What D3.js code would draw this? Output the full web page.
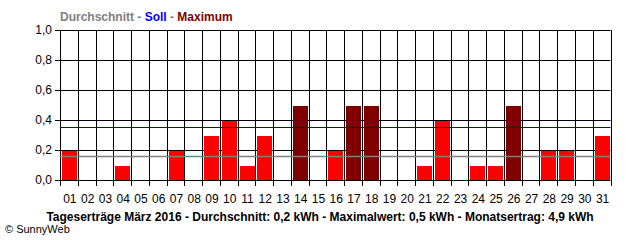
<!DOCTYPE html>
<html>
<head>
<meta charset="utf-8">
<script src="https://cdn.jsdelivr.net/npm/d3@7"></script>
<style>
  body { margin: 0; background: #fff; }
  svg { display: block; }
  text { font-family: "Liberation Sans", Arial, sans-serif; }
</style>
</head>
<body>
<div id="chart"></div>
<script>
// daily yields, March 2016 (kWh)
var days = ['01','02','03','04','05','06','07','08','09','10','11','12','13','14','15','16',
            '17','18','19','20','21','22','23','24','25','26','27','28','29','30','31'];
var yields = [0.195, 0, 0, 0.095, 0, 0, 0.195, 0, 0.295, 0.395, 0.095, 0.295, 0, 0.495, 0, 0.195,
              0.495, 0.495, 0, 0, 0.095, 0.395, 0, 0.095, 0.095, 0.495, 0, 0.195, 0.195, 0, 0.295];
var yTicks = [0, 0.2, 0.4, 0.6, 0.8, 1.0];
var avgValue = 0.158;
var sollValue = 0.353;
var footer = 'Tageserträge März 2016 - Durchschnitt: 0,2 kWh - Maximalwert: 0,5 kWh - Monatsertrag: 4,9 kWh';

var width = 640, height = 240;
var plotLeft = 60, plotRight = 610.5, plotTop = 30, plotBottom = 180;

var svg = d3.select('#chart').append('svg')
    .attr('width', width)
    .attr('height', height);

var x = d3.scaleBand().domain(days).range([plotLeft, plotRight]);
var y = d3.scaleLinear().domain([0, 1]).range([plotBottom, plotTop]);

var maxVal = d3.max(yields);

// horizontal grid + y labels
yTicks.forEach(function(t){
  svg.append('line')
    .attr('x1', plotLeft - 5).attr('x2', plotRight)
    .attr('y1', Math.round(y(t)) + 0.5).attr('y2', Math.round(y(t)) + 0.5)
    .attr('stroke', '#000');
  svg.append('text')
    .attr('x', 52).attr('y', Math.round(y(t)) + 4)
    .attr('text-anchor', 'end')
    .attr('font-size', 12)
    .text(d3.format('.1f')(t).replace('.', ','));
});

// vertical grid lines, running down as ticks
var bounds = days.map(function(d){ return x(d); }).concat([plotRight]);
bounds.forEach(function(b){
  svg.append('line')
    .attr('x1', Math.round(b) + 0.5).attr('x2', Math.round(b) + 0.5)
    .attr('y1', plotTop).attr('y2', plotBottom + 6)
    .attr('stroke', '#000');
});

// bars
svg.selectAll('.bar')
  .data(yields)
  .enter().append('rect')
  .attr('class', 'bar')
  .attr('x', function(d, i){ return Math.round(x(days[i])) + 2; })
  .attr('y', function(d){ return Math.round(y(d)); })
  .attr('width', Math.round(x.bandwidth()) - 3)
  .attr('height', function(d){ return plotBottom - Math.round(y(d)); })
  .attr('fill', function(d){ return d === maxVal ? '#800000' : '#ff0000'; });

// soll and average lines
svg.append('line')
  .attr('x1', plotLeft).attr('x2', plotRight)
  .attr('y1', Math.round(y(sollValue)) + 0.5).attr('y2', Math.round(y(sollValue)) + 0.5)
  .attr('stroke', '#0000c0').attr('stroke-width', 1);
svg.append('line')
  .attr('x1', plotLeft).attr('x2', plotRight)
  .attr('y1', Math.round(y(avgValue)) + 0.5).attr('y2', Math.round(y(avgValue)) + 0.5)
  .attr('stroke', '#808080').attr('stroke-width', 1.5);

// day labels
svg.selectAll('.day')
  .data(days)
  .enter().append('text')
  .attr('class', 'day')
  .attr('x', function(d){ return x(d) + x.bandwidth() / 2 + 1; })
  .attr('y', 203)
  .attr('text-anchor', 'middle')
  .attr('font-size', 12)
  .text(function(d){ return d; });

// legend title
var legend = svg.append('text')
  .attr('x', plotLeft).attr('y', 21)
  .attr('font-size', 12).attr('font-weight', 'bold');
legend.append('tspan').attr('fill', '#808080').text('Durchschnitt - ');
legend.append('tspan').attr('fill', '#0000ff').text('Soll');
legend.append('tspan').attr('fill', '#808080').text(' - ');
legend.append('tspan').attr('fill', '#800000').text('Maximum');

svg.append('text')
  .attr('x', 320).attr('y', 221)
  .attr('text-anchor', 'middle')
  .attr('font-size', 12).attr('font-weight', 'bold')
  .text(footer);

svg.append('text')
  .attr('x', 5).attr('y', 233)
  .attr('font-size', 11)
  .text('© SunnyWeb');
</script>
</body>
</html>
